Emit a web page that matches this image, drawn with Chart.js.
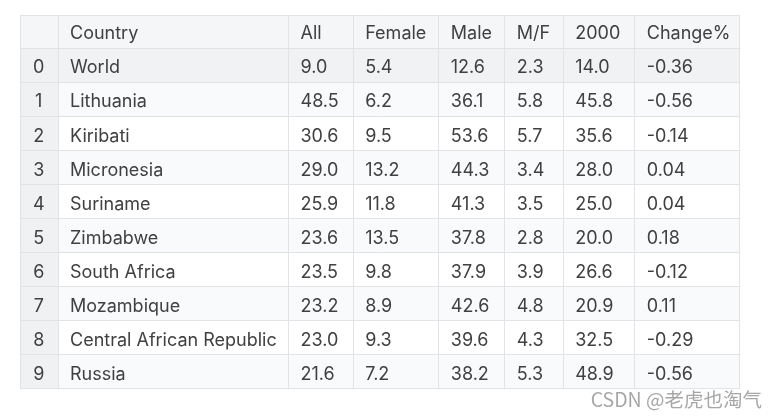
<!DOCTYPE html>
<html>
<head>
<meta charset="utf-8">
<script src="https://cdn.jsdelivr.net/npm/chart.js@4"></script>
<style>
  html, body { margin: 0; padding: 0; background: #fff; }
  #wrap { width: 777px; height: 418px; }
</style>
</head>
<body>
<div id="wrap"><canvas id="table" width="777" height="418"></canvas></div>
<script>
// table data
var columns = ['', 'Country', 'All', 'Female', 'Male', 'M/F', '2000', 'Change%'];
var rowIndex = ['0', '1', '2', '3', '4', '5', '6', '7', '8', '9'];
var countries = ['World', 'Lithuania', 'Kiribati', 'Micronesia', 'Suriname', 'Zimbabwe',
                 'South Africa', 'Mozambique', 'Central African Republic', 'Russia'];
var allRates = [9.0, 48.5, 30.6, 29.0, 25.9, 23.6, 23.5, 23.2, 23.0, 21.6];
var femaleRates = [5.4, 6.2, 9.5, 13.2, 11.8, 13.5, 9.8, 8.9, 9.3, 7.2];
var maleRates = [12.6, 36.1, 53.6, 44.3, 41.3, 37.8, 37.9, 42.6, 39.6, 38.2];
var mfRatio = [2.3, 5.8, 5.7, 3.4, 3.5, 2.8, 3.9, 4.8, 4.3, 5.3];
var rates2000 = [14.0, 45.8, 35.6, 28.0, 25.0, 20.0, 26.6, 20.9, 32.5, 48.9];
var changePct = [-0.36, -0.56, -0.14, 0.04, 0.04, 0.18, -0.12, 0.11, -0.29, -0.56];

// layout: column widths in px
var colWidths = [37.5, 230.5, 64.7, 85.6, 66, 58.4, 71.6, 105];
var edges = [0];
colWidths.forEach(function(w) { edges.push(edges[edges.length - 1] + w); });

var rowLabels = ['header'].concat(rowIndex);

// text of every cell, built from the arrays above
var cellText = [columns];
rowIndex.forEach(function(r, i) {
    cellText.push([
        r,
        countries[i],
        allRates[i].toFixed(1),
        femaleRates[i].toFixed(1),
        maleRates[i].toFixed(1),
        mfRatio[i].toFixed(1),
        rates2000[i].toFixed(1),
        changePct[i].toFixed(2)
    ]);
});

function cellColor(row, col) {
    if (row === 0) return '#f5f6f7';      // header
    if (col === 0) return '#eff1f3';      // index column
    if (row === 1) return '#f0f2f4';      // highlighted first row
    return (row % 2 === 0) ? '#f9fafb' : '#ffffff';
}

var datasets = colWidths.map(function(w, c) {
    return {
        label: columns[c],
        data: rowLabels.map(function() { return [edges[c], edges[c + 1]]; }),
        backgroundColor: rowLabels.map(function(r, i) { return cellColor(i, c); }),
        borderWidth: 0,
        barPercentage: 1,
        categoryPercentage: 1,
        grouped: false
    };
});

var FONT = '18px Inter, "Noto Sans", sans-serif';

var tablePlugin = {
    id: 'tableText',
    afterDatasetsDraw: function(chart) {
        var ctx = chart.ctx;
        var xs = chart.scales.x, ys = chart.scales.y;
        var top = ys.top, bottom = ys.bottom;
        ctx.save();
        // grid lines
        ctx.strokeStyle = '#e1e3e6';
        ctx.lineWidth = 1;
        ctx.beginPath();
        edges.forEach(function(e) {
            var px = Math.round(xs.getPixelForValue(e)) + 0.5;
            ctx.moveTo(px, top);
            ctx.lineTo(px, bottom);
        });
        var step = (bottom - top) / rowLabels.length;
        for (var r = 0; r <= rowLabels.length; r++) {
            var py = Math.round(top + r * step) - 0.5;
            if (r === 0) py += 1;
            ctx.moveTo(xs.left, py);
            ctx.lineTo(xs.right + 1, py);
        }
        ctx.stroke();

        // cell text
        ctx.font = FONT;
        ctx.fillStyle = '#404040';
        ctx.textBaseline = 'middle';
        cellText.forEach(function(row, ri) {
            var cy = ys.getPixelForValue(ri) + 2;
            row.forEach(function(txt, ci) {
                if (ci === 0) {
                    ctx.textAlign = 'center';
                    ctx.fillText(txt, (xs.getPixelForValue(edges[0]) + xs.getPixelForValue(edges[1])) / 2, cy);
                } else {
                    ctx.textAlign = 'left';
                    ctx.fillText(txt, xs.getPixelForValue(edges[ci]) + 12.5, cy);
                }
            });
        });

        // watermark
        ctx.font = '19.5px "Noto Sans CJK SC", "Noto Sans", sans-serif';
        ctx.fillStyle = 'rgba(150,150,150,0.85)';
        ctx.textAlign = 'right';
        ctx.fillText('CSDN @老虎也淘气', 762, 400);
        ctx.restore();
    }
};

new Chart(document.getElementById('table').getContext('2d'), {
    type: 'bar',
    data: { labels: rowLabels, datasets: datasets },
    options: {
        indexAxis: 'y',
        responsive: false,
        animation: false,
        events: [],
        layout: { padding: { left: 20, top: 15, right: 37.7, bottom: 28.7 } },
        scales: {
            x: { type: 'linear', min: 0, max: edges[edges.length - 1], display: false },
            y: { type: 'category', display: false, offset: true }
        },
        plugins: {
            legend: { display: false },
            tooltip: { enabled: false },
            title: { display: false }
        }
    },
    plugins: [tablePlugin]
});
</script>
</body>
</html>
